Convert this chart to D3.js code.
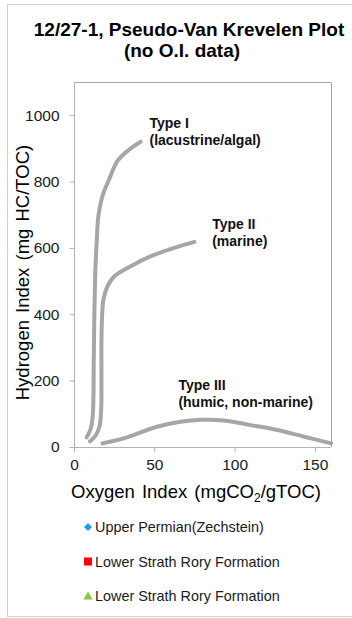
<!DOCTYPE html>
<html>
<head>
<meta charset="utf-8">
<script src="https://cdn.jsdelivr.net/npm/d3@7"></script>
<style>
  html, body { margin: 0; padding: 0; background: #fff; }
  svg { display: block; font-family: "Liberation Sans", Arial, sans-serif; }
</style>
</head>
<body>
<svg id="chart" width="352" height="618"></svg>
<script>
// Reference curves for kerogen types (Oxygen Index, Hydrogen Index)
const typeI = [
  [7.9, 29], [10.4, 55], [11.6, 90], [12.1, 152], [12.3, 260], [12.7, 400],
  [13.3, 530], [14.2, 625], [15.2, 696], [17.7, 756], [21.9, 807],
  [27.1, 862], [33.5, 893], [41.5, 920]
];
const typeII = [
  [10.0, 17], [13.5, 35], [15.8, 60], [16.9, 110], [17.1, 200], [17.1, 323],
  [17.5, 394], [18.3, 444], [20.8, 484], [25.0, 514], [35.4, 545],
  [47.9, 575], [62.5, 600], [75.0, 618]
];
const typeIII = [
  [17.7, 11], [30.8, 26], [51.7, 61], [66.3, 76], [78.8, 82], [93.3, 80],
  [110, 66], [126.7, 51], [143.3, 31], [160, 11]
];

const curveLabels = [
  { lines: ["Type I", "(lacustrine/algal)"], at: [47, 960] },
  { lines: ["Type II", "(marine)"], at: [86, 657] },
  { lines: ["Type III", "(humic, non-marine)"], at: [65, 172] }
];

const xTicks = [0, 50, 100, 150];
const yTicks = [0, 200, 400, 600, 800, 1000];

const legendItems = [
  { name: "Upper Permian(Zechstein)", symbol: "diamond", color: "#1ea0e6" },
  { name: "Lower Strath Rory Formation", symbol: "square", color: "#ff0000" },
  { name: "Lower Strath Rory Formation", symbol: "triangle", color: "#8dc63f" }
];

const svg = d3.select("#chart");

// Outer chart frame
svg.append("rect")
  .attr("x", 7.5).attr("y", 4.5)
  .attr("width", 400).attr("height", 612)
  .attr("fill", "#fff").attr("stroke", "#d0d0d0").attr("stroke-width", 1);

// Title
const title = svg.append("text")
  .attr("font-weight", "bold").attr("font-size", 19).attr("fill", "#000")
  .attr("text-anchor", "middle");
title.append("tspan").attr("x", 189).attr("y", 36).text("12/27-1, Pseudo-Van Krevelen Plot");
title.append("tspan").attr("x", 182).attr("y", 57).text("(no O.I. data)");

// Plot area
const plot = { left: 74, top: 82, right: 331, bottom: 447 };
const x = d3.scaleLinear().domain([0, 160]).range([plot.left, plot.right]);
const y = d3.scaleLinear().domain([0, 1100]).range([plot.bottom, plot.top]);

// Plot border (top and right)
svg.append("path")
  .attr("d", `M${plot.left},${plot.top + 0.5}H${plot.right + 0.5}V${plot.bottom}`)
  .attr("fill", "none").attr("stroke", "#a6a6a6").attr("stroke-width", 1);

// Axes
const xAxis = svg.append("g")
  .attr("transform", `translate(0,${plot.bottom + 0.5})`)
  .call(d3.axisBottom(x).tickValues(xTicks).tickSize(5).tickPadding(6).tickFormat(d3.format("d")));
const yAxis = svg.append("g")
  .attr("transform", `translate(${plot.left + 0.5},0)`)
  .call(d3.axisLeft(y).tickValues(yTicks).tickSize(5).tickPadding(10).tickFormat(d3.format("d")));

[xAxis, yAxis].forEach(g => {
  g.select(".domain").attr("stroke", "#b4b4b4");
  g.selectAll(".tick line").attr("stroke", "#b4b4b4");
  g.selectAll(".tick text")
    .attr("font-family", "Liberation Sans, Arial, sans-serif")
    .attr("font-size", 15.5).attr("fill", "#1a1a1a");
});
yAxis.select(".domain").attr("d", `M-5,${plot.bottom + 0.5}H0V${plot.top}`);
xAxis.select(".domain").attr("d", `M${plot.left},0H${plot.right}`);

// Axis titles
svg.append("text")
  .attr("transform", `translate(29,${(plot.top + plot.bottom) / 2 + 8}) rotate(-90)`)
  .attr("text-anchor", "middle").attr("font-size", 18.5).attr("fill", "#000")
  .attr("word-spacing", 2)
  .text("Hydrogen Index (mg HC/TOC)");

const xTitle = svg.append("text")
  .attr("x", 196).attr("y", 498).attr("text-anchor", "middle")
  .attr("font-size", 18.5).attr("fill", "#000").attr("word-spacing", 2);
xTitle.append("tspan").text("Oxygen Index (mgCO");
xTitle.append("tspan").attr("font-size", 12).attr("dy", 4).text("2");
xTitle.append("tspan").attr("dy", -4).text("/gTOC)");

// Kerogen type curves
const line = d3.line()
  .x(d => x(d[0])).y(d => y(d[1]))
  .curve(d3.curveCatmullRom.alpha(0.5));

svg.append("g")
  .selectAll("path")
  .data([typeI, typeII, typeIII])
  .join("path")
  .attr("d", line)
  .attr("fill", "none")
  .attr("stroke", "#a6a6a6")
  .attr("stroke-width", 4)
  .attr("stroke-linecap", "round")
  .attr("stroke-linejoin", "round");

// Curve labels
const lbl = svg.append("g").attr("font-weight", "bold").attr("font-size", 14).attr("fill", "#111");
curveLabels.forEach(l => {
  const t = lbl.append("text");
  l.lines.forEach((s, i) => {
    t.append("tspan").attr("x", x(l.at[0])).attr("y", y(l.at[1]) + i * 17).text(s);
  });
});

// Legend
const legend = svg.append("g");
legendItems.forEach((item, i) => {
  const cy = 527 + i * 34.5;
  const g = legend.append("g").attr("transform", `translate(88,${cy})`);
  if (item.symbol === "diamond") {
    g.append("path").attr("d", "M0,-4L4,0L0,4L-4,0Z").attr("fill", item.color);
  } else if (item.symbol === "square") {
    g.append("rect").attr("x", -4).attr("y", -4).attr("width", 8).attr("height", 8).attr("fill", item.color);
  } else {
    g.append("path").attr("d", "M0,-4.5L4.5,3.5L-4.5,3.5Z").attr("fill", item.color);
  }
  legend.append("text")
    .attr("x", 95).attr("y", cy + 5)
    .attr("font-size", 14.4).attr("fill", "#1a1a1a")
    .text(item.name);
});
</script>
</body>
</html>
